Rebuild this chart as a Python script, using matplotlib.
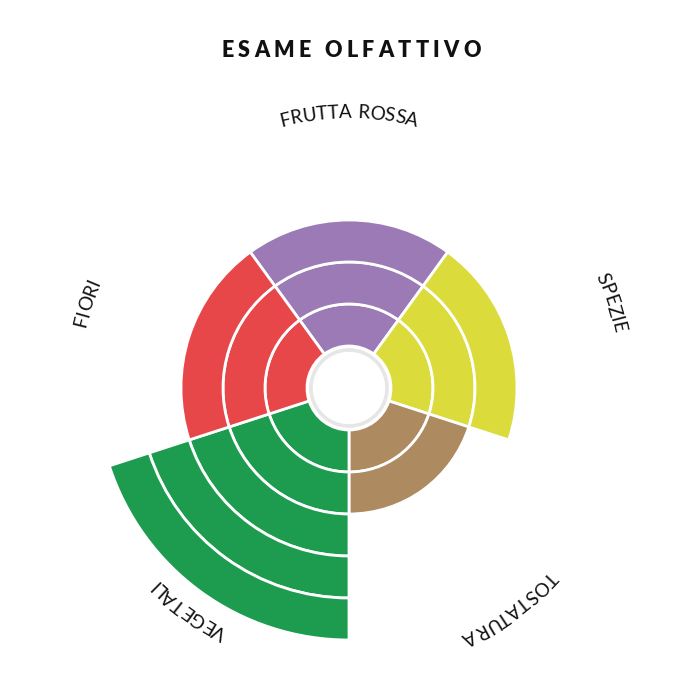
import numpy as np
import matplotlib
matplotlib.use("Agg")
import matplotlib.pyplot as plt
from matplotlib.font_manager import FontProperties

# data
categories = ["FRUTTA ROSSA", "SPEZIE", "TOSTATURA", "VEGETALI", "FIORI"]
levels = [3, 3, 2, 5, 3]
colors = ["#9b7ab6", "#dbdc3c", "#ad8a5f", "#1d9c4f", "#e8474a"]
title = "ESAME OLFATTIVO"

W = H = 700
cx, cy = 349, 388          # centre of the wheel in pixels (from top)
ring_px = 42               # thickness of one ring
half_px = 300

fig = plt.figure(figsize=(7, 7), dpi=100)
ax = fig.add_axes([(cx - half_px) / W, (H - cy - half_px) / H,
                   2 * half_px / W, 2 * half_px / H], projection="polar")
ax.set_theta_offset(np.pi / 2)
ax.set_theta_direction(-1)
ax.set_ylim(0, half_px / ring_px)
ax.axis("off")

n = len(categories)
angles = np.arange(n) * 2 * np.pi / n
width = 2 * np.pi / n
for k in range(max(levels)):
    idx = [i for i in range(n) if levels[i] > k]
    ax.bar(angles[idx], 1, width=width, bottom=1 + k,
           color=[colors[i] for i in idx], edgecolor="white", linewidth=2)

# inner hole with grey ring
t = np.linspace(0, 2 * np.pi, 361)
ax.plot(t, np.full_like(t, 38 / ring_px), color="#e6e6e6", lw=2.6)

renderer = fig.canvas.get_renderer()


def text_w(s, fp):
    return renderer.get_text_width_height_descent(s, fp, ismath=False)[0]


def curved_text(s, theta_c, r_px, fp):
    total = text_w(s, fp)
    for i, ch in enumerate(s):
        if ch == " ":
            continue
        c = text_w(s[:i + 1], fp) - text_w(ch, fp) / 2
        d = c - total / 2
        th = theta_c + d / r_px
        ax.text(th, r_px / ring_px, ch, fontproperties=fp,
                rotation=-np.degrees(th), rotation_mode="anchor",
                ha="center", va="baseline", color="#111111", clip_on=False)


label_fp = FontProperties(family="Lato", size=13.6)
for ang, name in zip(angles, categories):
    curved_text(name, ang, 270, label_fp)

# title with letter spacing
title_fp = FontProperties(family="Lato", weight="heavy", size=15.5)
track = 4.3
tw = text_w(title, title_fp) + track * (len(title) - 1)
x0 = 351 - tw / 2
for i, ch in enumerate(title):
    if ch == " ":
        continue
    c = text_w(title[:i + 1], title_fp) - text_w(ch, title_fp) / 2 + track * i
    fig.text((x0 + c) / W, (H - 57) / H, ch, fontproperties=title_fp,
             ha="center", va="baseline", color="#111111")

fig.savefig("out.png", dpi=100)
